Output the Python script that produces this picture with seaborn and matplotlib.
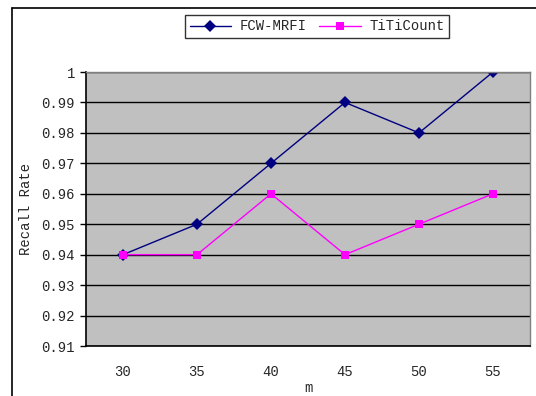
import numpy as np
import pandas as pd
import matplotlib
matplotlib.use('Agg')
import matplotlib.pyplot as plt
import seaborn as sns
from matplotlib.lines import Line2D
from matplotlib.ticker import FixedLocator

# Data
m_values = ['30', '35', '40', '45', '50', '55']
fcw_mrfi = [0.94, 0.95, 0.97, 0.99, 0.98, 1.00]
titicount = [0.94, 0.94, 0.96, 0.94, 0.95, 0.96]
series_names = ['FCW-MRFI', 'TiTiCount']

df = pd.DataFrame({
    'm': m_values * 2,
    'recall': fcw_mrfi + titicount,
    'method': [series_names[0]] * len(m_values) + [series_names[1]] * len(m_values),
})

sns.set_style('white')
plt.rcParams['font.family'] = ['Liberation Mono', 'DejaVu Sans Mono']
plt.rcParams['font.size'] = 10

fig = plt.figure(figsize=(5.36, 3.96), dpi=100)
ax = fig.add_axes([86 / 536, 1 - 346 / 396, 444 / 536, 274 / 396])
ax.set_facecolor('#C0C0C0')

sns.lineplot(data=df, x='m', y='recall', hue='method', style='method',
             palette={'FCW-MRFI': '#000080', 'TiTiCount': '#FF00FF'},
             markers={'FCW-MRFI': 'D', 'TiTiCount': 's'},
             dashes=False, markersize=6, markeredgewidth=0, linewidth=1,
             ax=ax, legend=True)

ax.set_xlim(-0.5, len(m_values) - 0.5)
ax.set_ylim(0.91, 1.0)
ax.set_yticks(np.arange(0.91, 1.0001, 0.01))
ax.set_yticklabels(['0.91', '0.92', '0.93', '0.94', '0.95', '0.96', '0.97', '0.98', '0.99', '1'])
ax.yaxis.grid(True, color='black', linewidth=1)
ax.set_axisbelow(True)

ax.xaxis.set_minor_locator(FixedLocator(np.arange(0.5, len(m_values) - 0.5, 1)))
ax.tick_params(axis='x', which='major', length=0, pad=14, labelsize=10)
ax.tick_params(axis='x', which='minor', direction='in', length=4, width=1, color='black')
ax.tick_params(axis='y', which='major', direction='out', length=4, width=1, color='black',
               left=True, pad=4, labelsize=10)

for side in ['top', 'right']:
    ax.spines[side].set_color('#808080')
    ax.spines[side].set_linewidth(1)
for side in ['left', 'bottom']:
    ax.spines[side].set_color('black')
    ax.spines[side].set_linewidth(1.2)

ax.set_xlabel('m', fontsize=10, labelpad=1)
ax.set_ylabel('Recall Rate', fontsize=10, labelpad=6)

handles, labels = ax.get_legend_handles_labels()
ax.get_legend().remove()
leg = fig.legend(handles, labels, loc='center', ncol=2,
                 bbox_to_anchor=(317 / 536, 1 - 26.5 / 396),
                 frameon=True, fancybox=False, edgecolor='black',
                 handlelength=3, handletextpad=0.6, columnspacing=0.9,
                 borderpad=0.35, fontsize=10)
leg.get_frame().set_linewidth(1)

# outer chart border (partially cut off in the reference)
fig.add_artist(Line2D([12 / 536, 1], [1 - 8 / 396, 1 - 8 / 396], color='black', linewidth=1.2))
fig.add_artist(Line2D([12 / 536, 12 / 536], [0, 1 - 8 / 396], color='black', linewidth=1.2))

fig.savefig('out.png', dpi=100)
